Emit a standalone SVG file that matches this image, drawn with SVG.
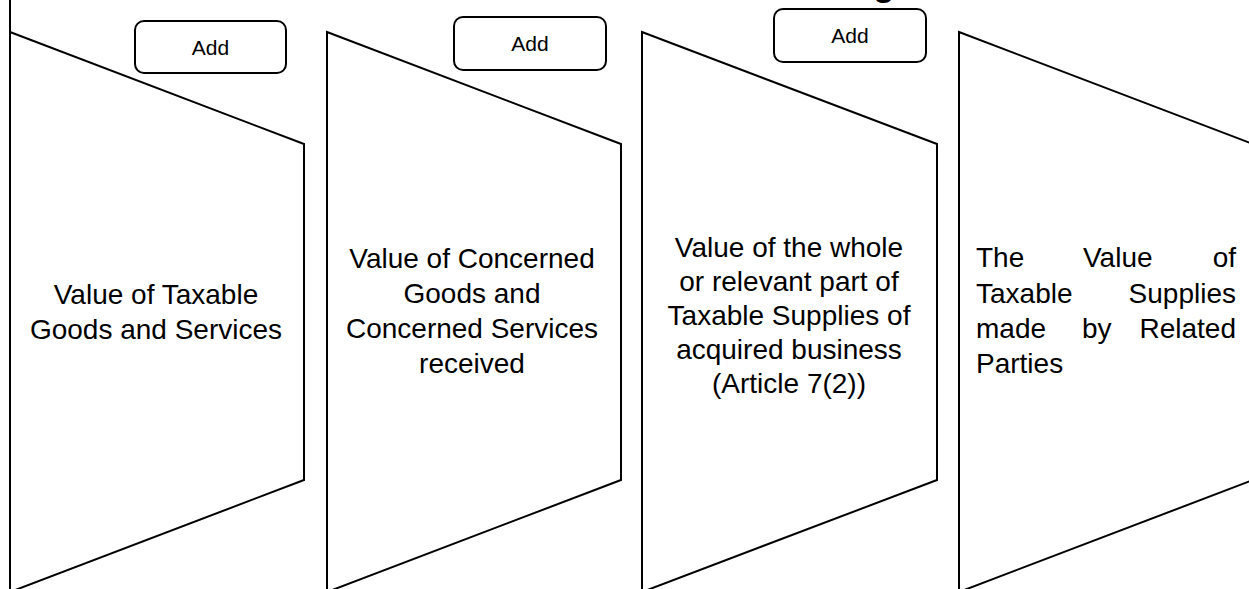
<svg xmlns="http://www.w3.org/2000/svg" width="1249" height="589" viewBox="0 0 1249 589">
<style>
.shape{fill:#fff;stroke:#000;stroke-width:2;stroke-linejoin:miter}
.btn{fill:#fff;stroke:#000;stroke-width:2}
.t{font-family:"Liberation Sans",Arial,sans-serif;font-size:28px;fill:#000}
.c{text-anchor:middle}
.a{font-family:"Liberation Sans",Arial,sans-serif;font-size:21px;fill:#000;text-anchor:middle}
</style>
<rect width="1249" height="589" fill="#fff"/>
<text x="884" y="-5" font-family="Liberation Sans, Arial, sans-serif" font-size="36" font-weight="bold" text-anchor="middle">g</text>
<g id="node1">
<line x1="10" y1="0" x2="10" y2="32" stroke="#000" stroke-width="2"/>
<path class="shape" d="M10,32 L304,144 L304,480 L10,592 Z"/>
<text class="t c" x="156" y="304">Value of Taxable</text>
<text class="t c" x="156" y="339">Goods and Services</text>
</g>
<g id="node2">
<path class="shape" d="M327,32 L621,144 L621,480 L327,592 Z"/>
<text class="t c" x="472" y="268">Value of Concerned</text>
<text class="t c" x="472" y="303">Goods and</text>
<text class="t c" x="472" y="338">Concerned Services</text>
<text class="t c" x="472" y="373">received</text>
</g>
<g id="node3">
<path class="shape" d="M642,32 L937,144 L937,480 L642,592 Z"/>
<text class="t c" x="789" y="257">Value of the whole</text>
<text class="t c" x="789" y="291">or relevant part of</text>
<text class="t c" x="789" y="325">Taxable Supplies of</text>
<text class="t c" x="789" y="359">acquired business</text>
<text class="t c" x="789" y="393">(Article 7(2))</text>
</g>
<g id="node4">
<path class="shape" d="M959,32 L1253,144 L1253,480 L959,592 Z"/>
<text class="t" x="976" y="267">The</text>
<text class="t" x="1083" y="267">Value</text>
<text class="t" x="1236" y="267" text-anchor="end">of</text>
<text class="t" x="976" y="303">Taxable</text>
<text class="t" x="1236" y="303" text-anchor="end">Supplies</text>
<text class="t" x="976" y="338">made</text>
<text class="t" x="1082" y="338">by</text>
<text class="t" x="1236" y="338" text-anchor="end">Related</text>
<text class="t" x="976" y="373">Parties</text>
</g>
<g id="add1">
<rect class="btn" x="135" y="21" width="151" height="52" rx="9"/>
<text class="a" x="210.5" y="55">Add</text>
</g>
<g id="add2">
<rect class="btn" x="454" y="17" width="152" height="53" rx="9"/>
<text class="a" x="530" y="51">Add</text>
</g>
<g id="add3">
<rect class="btn" x="774" y="9" width="152" height="53" rx="9"/>
<text class="a" x="850" y="43">Add</text>
</g>
<g id="connectors"></g>
</svg>
